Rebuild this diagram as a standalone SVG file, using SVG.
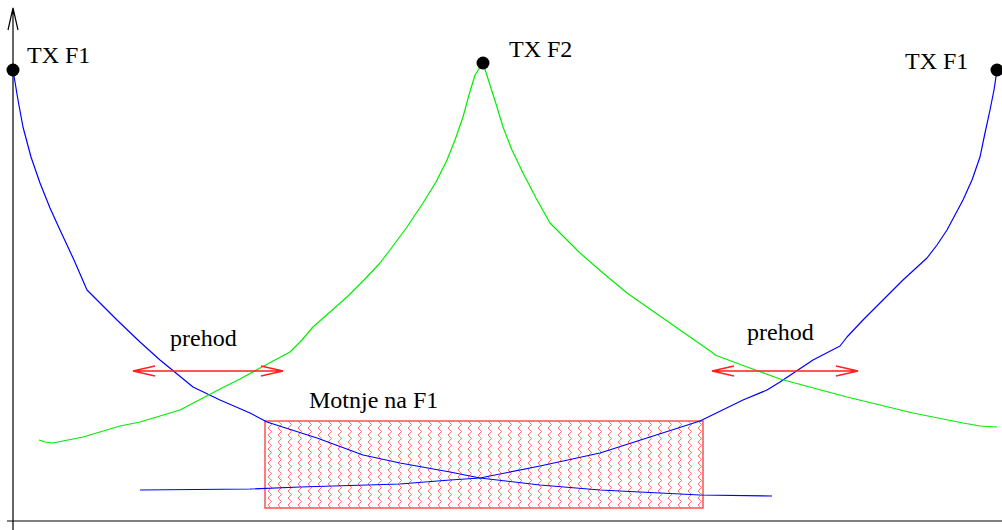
<svg xmlns="http://www.w3.org/2000/svg" width="1002" height="530" viewBox="0 0 1002 530">
<style>
.lbl{font-family:"Liberation Serif","Times New Roman",serif;font-size:24px;fill:#000}
.blue{fill:none;stroke:#0000ff;stroke-width:1.2;stroke-linejoin:round}
.green{fill:none;stroke:#00ee00;stroke-width:1.2;stroke-linejoin:round}
.ax{fill:none;stroke:#000;stroke-width:1.2}
.arr{fill:none;stroke:#ff2020;stroke-width:1.5}
</style>
<defs>
<pattern id="zig" patternUnits="userSpaceOnUse" x="265" y="421" width="10" height="7">
<path d="M3,0 L6.5,3.5 L3,7" fill="none" stroke="#ff5050" stroke-width="0.8"/>
</pattern>
</defs>
<rect width="1002" height="530" fill="#fff"/>
<g id="axes">
<path class="ax" d="M13,8 V530 M8,30 L13,8 L18,30 M7,521 H1002"/>
</g>
<g id="interference">
<rect x="265" y="421" width="438" height="87" fill="url(#zig)" stroke="#ff5050" stroke-width="1.5"/>
<text class="lbl" x="309" y="408">Motnje na F1</text>
</g>
<g id="connectors">
<path class="blue" d="M13,70 L18,100 L23,127 L31,157 L40,183 L50,208 L60,230 L74,260 L87,290 L117,320 L140,342 L160,360 L193,387 L220,400 L250,413 L267,422 L317,438 L363,455 L400,463 L450,472 L480,478 L540,485 L600,490 L700,495 L772,496"/>
<path class="blue" d="M997,70 L994,90 L990,110 L985,133 L980,157 L972,180 L963,200 L955,215 L947,230 L937,245 L927,258 L903,280 L880,303 L863,320 L847,337 L840,346 L813,360 L780,382 L767,390 L743,400 L700,421 L650,437 L600,453 L540,466 L480,478 L450,480 L400,484 L300,487 L250,489 L140,490"/>
<path class="green" d="M483,63 L475,75 L469,95 L463,117 L455,140 L447,160 L436,182 L423,203 L407,227 L390,250 L380,263 L364,280 L347,297 L330,312 L313,327 L302,340 L290,352 L275,360 L260,368 L240,379 L220,389 L180,410 L140,422 L120,426 L83,437 L53,443 L45,442 L39,440"/>
<path class="green" d="M483,63 L490,85 L497,107 L503,127 L512,150 L523,173 L536,198 L550,223 L565,238 L580,253 L603,273 L627,293 L670,323 L713,353 L715,355 L747,367 L780,379 L847,397 L913,413 L963,423 L980,426 L997,427"/>
</g>
<g id="transition-left">
<path class="arr" d="M133,371 H283 M155,366 L133,371 L155,376 M261,366 L283,371 L261,376"/>
<text class="lbl" x="170" y="346">prehod</text>
</g>
<g id="transition-right">
<path class="arr" d="M712,371 H858 M734,366 L712,371 L734,376 M836,366 L858,371 L836,376"/>
<text class="lbl" x="747" y="340">prehod</text>
</g>
<g id="tx-f1-left">
<circle cx="13" cy="70" r="6.5" fill="#000"/>
<text class="lbl" x="27" y="63">TX F1</text>
</g>
<g id="tx-f2">
<circle cx="483" cy="63" r="6.5" fill="#000"/>
<text class="lbl" x="509" y="57">TX F2</text>
</g>
<g id="tx-f1-right">
<circle cx="997" cy="70" r="6.5" fill="#000"/>
<text class="lbl" x="905" y="69">TX F1</text>
</g>
</svg>
